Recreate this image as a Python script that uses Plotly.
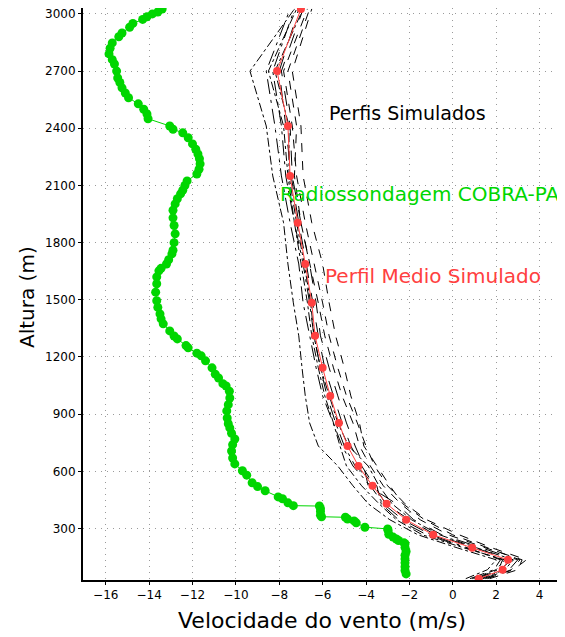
import plotly.graph_objects as go

# ---------------- data ----------------
levels = [37, 84, 136, 199, 267, 346, 430, 524, 628, 733, 854, 996, 1143, 1311,
          1484, 1688, 1904, 2150, 2412, 2700, 3026]

mean_profile = [1.2, 2.3, 2.55, 0.9, -0.9, -2.15, -3.05, -3.7, -4.35, -4.85, -5.25,
                -5.65, -6.0, -6.35, -6.5, -6.8, -7.15, -7.5, -7.6, -8.1, -7.0]

member_1 = [0.6, 1.6, 2.0, 0.2, -1.6, -2.9, -3.9, -4.6, -5.3, -6.2, -6.6, -6.8, -6.95, -7.1, -7.35, -7.6, -7.8, -8.3, -8.6, -9.35, -7.3]
member_2 = [1.5, 2.8, 3.4, 1.8, 0.3, -1.2, -2.2, -3.0, -3.6, -4.0, -4.4, -4.9, -5.3, -5.7, -6.0, -6.4, -6.8, -7.2, -7.4, -7.8, -6.7]
member_3 = [1.0, 2.1, 2.3, 0.6, -1.2, -2.5, -3.3, -3.5, -4.5, -5.0, -5.4, -5.8, -6.1, -6.4, -6.6, -6.9, -7.3, -7.7, -7.9, -8.3, -7.3]
member_4 = [1.4, 2.6, 3.0, 1.3, -0.5, -1.8, -2.6, -3.9, -4.1, -4.5, -4.9, -5.3, -5.7, -6.1, -6.3, -6.6, -7.0, -7.4, -7.5, -7.9, -6.9]
member_5 = [0.9, 2.0, 2.4, 0.5, -1.4, -2.6, -3.4, -4.2, -4.9, -5.2, -5.5, -5.9, -6.2, -6.5, -6.7, -7.0, -7.3, -7.6, -7.8, -8.5, -7.2]
member_6 = [1.7, 3.0, 3.2, 1.5, -0.2, -1.5, -2.4, -3.2, -3.8, -4.3, -4.6, -5.1, -5.5, -5.9, -6.2, -6.6, -7.0, -7.3, -7.2, -7.6, -6.6]
member_7 = [1.1, 2.2, 2.7, 1.0, -0.8, -2.0, -3.1, -3.6, -4.2, -4.7, -5.1, -5.5, -5.9, -6.2, -6.45, -6.75, -7.1, -7.45, -7.7, -8.0, -7.1]
member_8 = [1.3, 2.4, 2.8, 1.1, -0.6, -1.9, -2.8, -3.4, -3.9, -4.8, -5.3, -5.7, -6.1, -6.4, -6.55, -6.85, -7.2, -7.55, -7.55, -8.2, -6.9]
member_9 = [0.8, 1.9, 2.2, 0.7, -1.0, -2.3, -3.2, -3.8, -4.6, -5.1, -5.5, -6.0, -6.3, -6.6, -6.9, -7.1, -7.5, -7.9, -8.2, -8.6, -7.5]
member_10 = [1.6, 2.7, 3.1, 1.6, 0.0, -1.3, -2.3, -2.9, -3.5, -4.1, -4.3, -4.7, -5.0, -5.4, -5.7, -6.0, -6.5, -6.9, -7.0, -7.4, -6.5]

members = [member_1, member_2, member_3, member_4, member_5,
           member_6, member_7, member_8, member_9, member_10]

sonde_height = [3026, 3010, 3000, 2985, 2971, 2950, 2930, 2900, 2880, 2848, 2820, 2790,
                2760, 2737, 2700, 2664, 2640, 2612, 2585, 2560, 2528, 2500, 2475, 2450,
                2412, 2395, 2376, 2350, 2318, 2290, 2265, 2240, 2213, 2185, 2160, 2124,
                2100, 2075, 2056, 2030, 2003, 1970, 1930, 1890, 1846, 1800, 1760, 1741,
                1710, 1688, 1665, 1652, 1620, 1584, 1540, 1495, 1460, 1426, 1400, 1374,
                1337, 1310, 1295, 1260, 1248, 1220, 1206, 1180, 1143, 1110, 1090, 1060,
                1048, 1020, 985, 950, 917, 880, 850, 828, 800, 770, 740, 707, 670, 639,
                603, 580, 540, 520, 498, 466, 456, 435, 420, 418, 405, 390, 370, 362,
                359, 350, 340, 330, 307, 298, 290, 270, 255, 245, 237, 225, 220, 200,
                180, 160, 140, 120, 100, 80, 62]
sonde_speed = [-13.4, -13.6, -13.85, -14.1, -14.3, -14.75, -14.9, -15.25, -15.4, -15.7, -15.8, -15.85,
               -15.7, -15.6, -15.5, -15.45, -15.35, -15.25, -15.1, -14.95, -14.5, -14.25, -14.1, -14.05,
               -13.05, -12.9, -12.45, -12.2, -12.0, -11.85, -11.75, -11.68, -11.65, -11.7, -11.8, -12.25,
               -12.35, -12.45, -12.55, -12.7, -12.8, -12.9, -12.9, -12.85, -12.8, -12.85, -12.9, -12.95,
               -13.1, -13.2, -13.45, -13.55, -13.65, -13.65, -13.7, -13.65, -13.6, -13.5, -13.45, -13.35,
               -13.05, -12.85, -12.7, -12.3, -12.2, -11.8, -11.6, -11.4, -11.1, -10.95, -10.8, -10.6,
               -10.45, -10.3, -10.28, -10.35, -10.42, -10.4, -10.35, -10.28, -10.2, -10.05, -10.15, -10.2, -10.15, -10.05,
               -9.7, -9.5, -9.25, -9.0, -8.65, -8.05, -7.85, -7.6, -7.35, -6.15, -6.1, -6.1, -6.1, -6.05,
               -4.95, -4.85, -4.55, -4.45, -4.05, -3.0, -2.98, -2.95, -2.75, -2.6, -2.5, -2.25, -2.2, -2.2,
               -2.15, -2.2, -2.2, -2.2, -2.2, -2.2, -2.15]

x_ticks = [-16, -14, -12, -10, -8, -6, -4, -2, 0, 2, 4]
y_ticks = [300, 600, 900, 1200, 1500, 1800, 2100, 2400, 2700, 3000]

GREEN = "rgb(0,214,0)"
RED = "rgb(255,64,64)"
FONT = "DejaVu Sans"

fig = go.Figure()

fig.add_trace(go.Scatter(
    x=sonde_speed, y=sonde_height, mode="lines+markers",
    line=dict(color=GREEN, width=1),
    marker=dict(color=GREEN, size=9, symbol="circle"),
    showlegend=False))

dashes = ["dashdot", "dash", "longdashdot", "longdash", "dashdot",
          "dash", "longdash", "dashdot", "longdashdot", "dash"]
for m, d in zip(members, dashes):
    fig.add_trace(go.Scatter(
        x=m, y=levels, mode="lines",
        line=dict(color="black", width=1, dash=d),
        showlegend=False))

fig.add_trace(go.Scatter(
    x=mean_profile, y=levels, mode="lines+markers",
    line=dict(color=RED, width=1),
    marker=dict(color=RED, size=8),
    showlegend=False))

axis_common = dict(
    showline=True, linecolor="black", linewidth=2, mirror=True,
    showgrid=True, gridcolor="#9a9a9a", griddash="1px,5px", gridwidth=1,
    zeroline=False, ticks="outside", ticklen=3, tickcolor="black",
    automargin=False, ticklabeloverflow="allow",
    tickfont=dict(family=FONT, size=12, color="black"))

fig.update_xaxes(range=[-17.05, 4.9], tickvals=x_ticks, **axis_common)
fig.update_yaxes(range=[30, 3031], tickvals=y_ticks, **axis_common)

W, H = 557, 629
L, R, T, B = 75, 6, 0, 57
pw, ph = W - L - R, H - T - B

fig.update_layout(
    width=W, height=H,
    margin=dict(l=L, r=R, t=T, b=B),
    plot_bgcolor="white", paper_bgcolor="white",
    annotations=[
        dict(text="Perfis Simulados", x=-2.1, y=2481, xref="x", yref="y",
             showarrow=False, font=dict(family=FONT, size=19, color="black"),
             xanchor="center", yanchor="middle"),
        dict(text="Radiossondagem COBRA-PA", x=-8.05, y=2056, xref="x", yref="y",
             showarrow=False, font=dict(family=FONT, size=20, color=GREEN),
             xanchor="left", yanchor="middle"),
        dict(text="Perfil Medio Simulado", x=-6.0, y=1626, xref="x", yref="y",
             showarrow=False, font=dict(family=FONT, size=20, color=RED),
             xanchor="left", yanchor="middle"),
        dict(text="Velocidade do vento (m/s)", x=(314 - L) / pw, y=-(612 - (H - B)) / ph,
             xref="paper", yref="paper", xanchor="center", yanchor="middle",
             showarrow=False, font=dict(family=FONT, size=22, color="black")),
        dict(text="Altura (m)", x=(19 - L) / pw, y=1 - (289 - T) / ph,
             xref="paper", yref="paper", showarrow=False, textangle=-90,
             font=dict(family=FONT, size=20, color="black"),
             xanchor="center", yanchor="middle"),
    ])

fig.write_html("out.html")
